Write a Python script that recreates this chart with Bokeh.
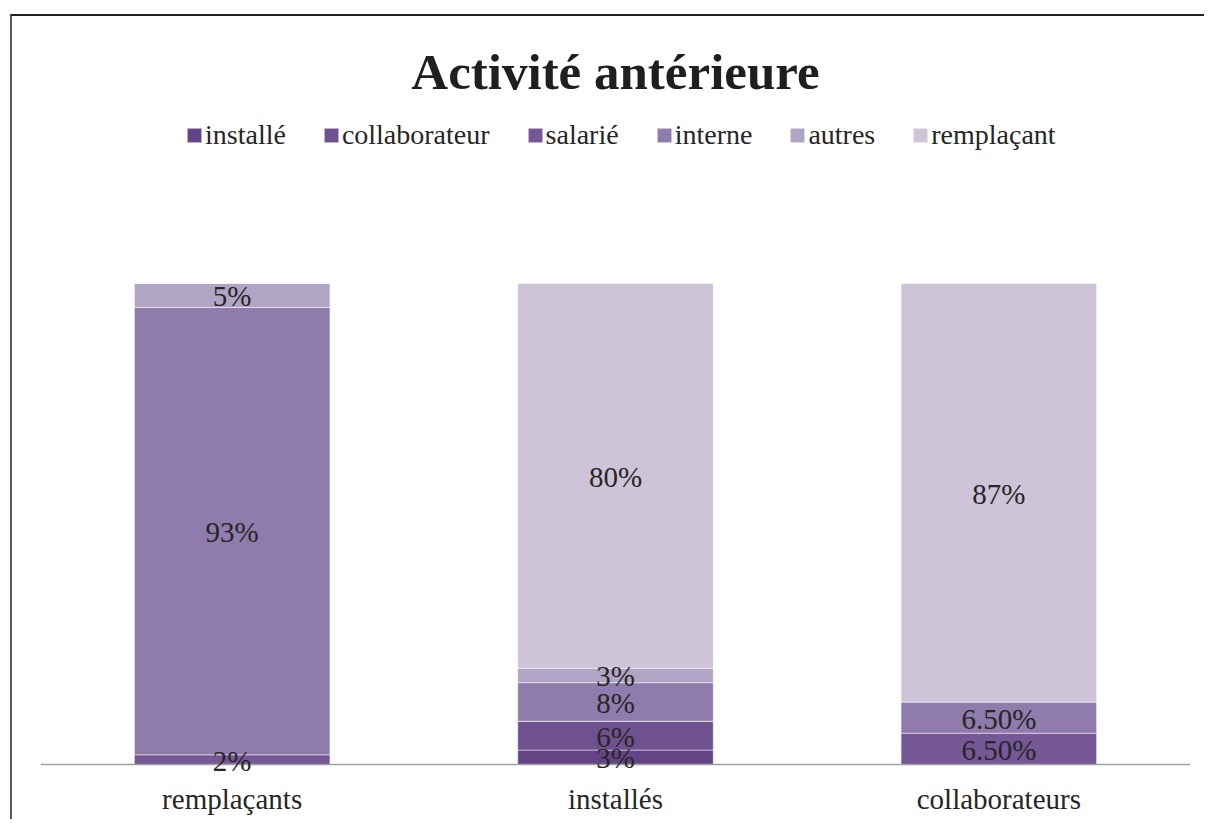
from bokeh.plotting import figure
from bokeh.models import (Legend, LegendItem, Label, LabelSet, ColumnDataSource,
                          FactorRange, Range1d, Span)
from bokeh.embed import file_html
from bokeh.resources import INLINE

# ---- data ----
categories = ["remplaçants", "installés", "collaborateurs"]
series = ["installé", "collaborateur", "salarié", "interne", "autres", "remplaçant"]
installe = [0, 3, 0]
collaborateur = [0, 6, 0]
salarie = [2, 0, 6.5]
interne = [93, 8, 6.5]
autres = [5, 3, 0]
remplacant = [0, 80, 87]
colors = ["#634585", "#70518f", "#765896", "#8f7bac", "#b0a5c4", "#cdc4d8"]
title_text = "Activité antérieure"

FONT = "Liberation Serif"
TXT = "#262626"

values = [installe, collaborateur, salarie, interne, autres, remplacant]
data = {"cat": categories}
for s, v in zip(series, values):
    data[s] = v
src = ColumnDataSource(data)

W, H = 1194, 805
p = figure(x_range=FactorRange(*categories), y_range=Range1d(-2.5, 155.5),
           width=W, height=H, output_backend="svg", toolbar_location=None,
           title=None, min_border_left=28, min_border_right=16,
           min_border_top=0, min_border_bottom=45)
p.styles = {"margin-left": "10px", "margin-top": "14px",
            "border-top": "2px solid #222222", "border-left": "2px solid #5a5a5a"}
p.outline_line_color = None
p.xgrid.visible = False
p.ygrid.visible = False
p.yaxis.visible = False
p.background_fill_color = "white"
p.border_fill_color = "white"

rs = p.vbar_stack(series, x="cat", width=0.51, source=src, color=colors,
                  line_color="white", line_alpha=0.45, line_width=1)

# category axis baseline at zero
p.add_layout(Span(location=0, dimension="width", line_color="#a0a0a0", line_width=1.5))

xa = p.xaxis[0]
xa.axis_line_color = None
xa.major_tick_line_color = None
xa.minor_tick_line_color = None
xa.major_label_text_font = FONT
xa.major_label_text_font_size = "29px"
xa.major_label_text_color = TXT
xa.major_label_standoff = 0

# data labels
lx, ly, lt = [], [], []
for j, c in enumerate(categories):
    bottom = 0
    for v in values:
        vj = v[j]
        if vj > 0:
            lx.append(c)
            ly.append(bottom + vj / 2)
            lt.append(f"{vj:.2f}%" if vj != int(vj) else f"{int(vj)}%")
        bottom += vj
lsrc = ColumnDataSource(dict(x=lx, y=ly, t=lt))
p.add_layout(LabelSet(x="x", y="y", text="t", source=lsrc, text_font=FONT,
                      text_font_size="29px", text_color=TXT, text_align="center",
                      text_baseline="middle", y_offset=-1))

# title (screen offsets from frame bottom-left; frame bottom is 12px lower now)
p.add_layout(Label(x=575, y=705, x_units="screen", y_units="screen",
                   text=title_text, text_font=FONT, text_font_size="51px",
                   text_font_style="bold", text_color="#1f1f1f",
                   text_align="center", text_baseline="middle"))

legend = Legend(items=[LegendItem(label=s, renderers=[r]) for s, r in zip(series, rs)],
                location=(145, 625), orientation="horizontal",
                label_text_font=FONT, label_text_font_size="28px",
                label_text_color=TXT, glyph_width=18, glyph_height=18,
                label_standoff=2, spacing=36, padding=0, margin=0,
                border_line_color=None, background_fill_alpha=0)
p.add_layout(legend)

open("out.html", "w").write(file_html(p, INLINE))
